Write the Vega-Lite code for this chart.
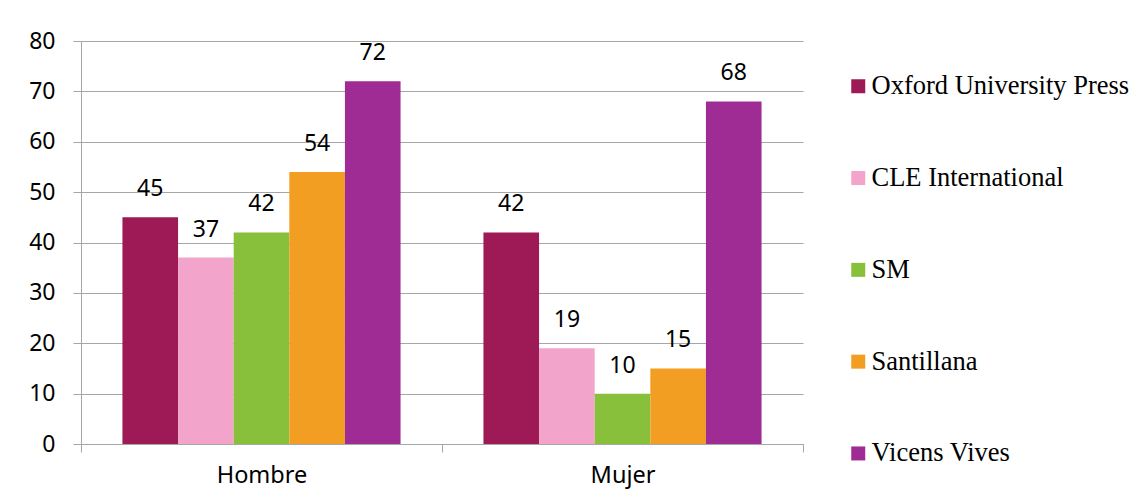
{
  "$schema": "https://vega.github.io/schema/vega-lite/v6.json",
  "autosize": "none",
  "width": 722,
  "height": 403,
  "padding": {"left": 81, "top": 41, "right": 334, "bottom": 60},
  "background": "white",
  "config": {
    "view": {"stroke": null},
    "font": "Noto Sans"
  },
  "data": {
    "values": [
      {"sexo": "Hombre", "editorial": "Oxford University Press", "valor": 45},
      {"sexo": "Hombre", "editorial": "CLE International", "valor": 37},
      {"sexo": "Hombre", "editorial": "SM", "valor": 42},
      {"sexo": "Hombre", "editorial": "Santillana", "valor": 54},
      {"sexo": "Hombre", "editorial": "Vicens Vives", "valor": 72},
      {"sexo": "Mujer", "editorial": "Oxford University Press", "valor": 42},
      {"sexo": "Mujer", "editorial": "CLE International", "valor": 19},
      {"sexo": "Mujer", "editorial": "SM", "valor": 10},
      {"sexo": "Mujer", "editorial": "Santillana", "valor": 15},
      {"sexo": "Mujer", "editorial": "Vicens Vives", "valor": 68}
    ]
  },
  "encoding": {
    "x": {
      "field": "sexo", "type": "nominal", "sort": null,
      "scale": {"paddingInner": 0, "paddingOuter": 0},
      "axis": {
        "title": null, "labelAngle": 0, "tickBand": "extent",
        "domainColor": "#A6A6A6", "tickColor": "#A6A6A6", "tickSize": 8,
        "labelFont": "Noto Sans", "labelFontSize": 23.5, "labelColor": "#000000",
        "labelPadding": 11
      }
    },
    "xOffset": {
      "field": "editorial", "type": "nominal", "sort": null,
      "scale": {"paddingInner": 0, "paddingOuter": 0.745}
    },
    "y": {
      "field": "valor", "type": "quantitative",
      "scale": {"domain": [0, 80], "nice": false},
      "axis": {
        "title": null, "values": [0, 10, 20, 30, 40, 50, 60, 70, 80],
        "gridColor": "#A6A6A6", "domainColor": "#A6A6A6", "tickColor": "#A6A6A6",
        "tickSize": 8, "labelPadding": 18,
        "labelFont": "Noto Sans", "labelFontSize": 23, "labelColor": "#000000"
      }
    }
  },
  "layer": [
    {
      "mark": {"type": "bar"},
      "encoding": {
        "color": {
          "field": "editorial", "type": "nominal",
          "scale": {
            "domain": ["Oxford University Press", "CLE International", "SM", "Santillana", "Vicens Vives"],
            "range": ["#9D1A56", "#F2A4CA", "#88C03C", "#F29E22", "#9E2C94"]
          },
          "legend": {
            "title": null, "orient": "none", "legendX": 764, "legendY": 32,
            "symbolType": "square", "symbolSize": 196, "symbolStrokeWidth": 0,
            "labelFont": "Liberation Serif", "labelFontSize": 26.5, "labelColor": "#000000",
            "labelOffset": 0, "rowPadding": 64.8, "padding": 0, "labelLimit": 400
          }
        }
      }
    },
    {
      "mark": {"type": "text", "baseline": "middle", "dy": -28, "fontSize": 23, "font": "Noto Sans", "color": "#000000"},
      "encoding": {
        "text": {"field": "valor", "type": "quantitative"}
      }
    }
  ]
}
